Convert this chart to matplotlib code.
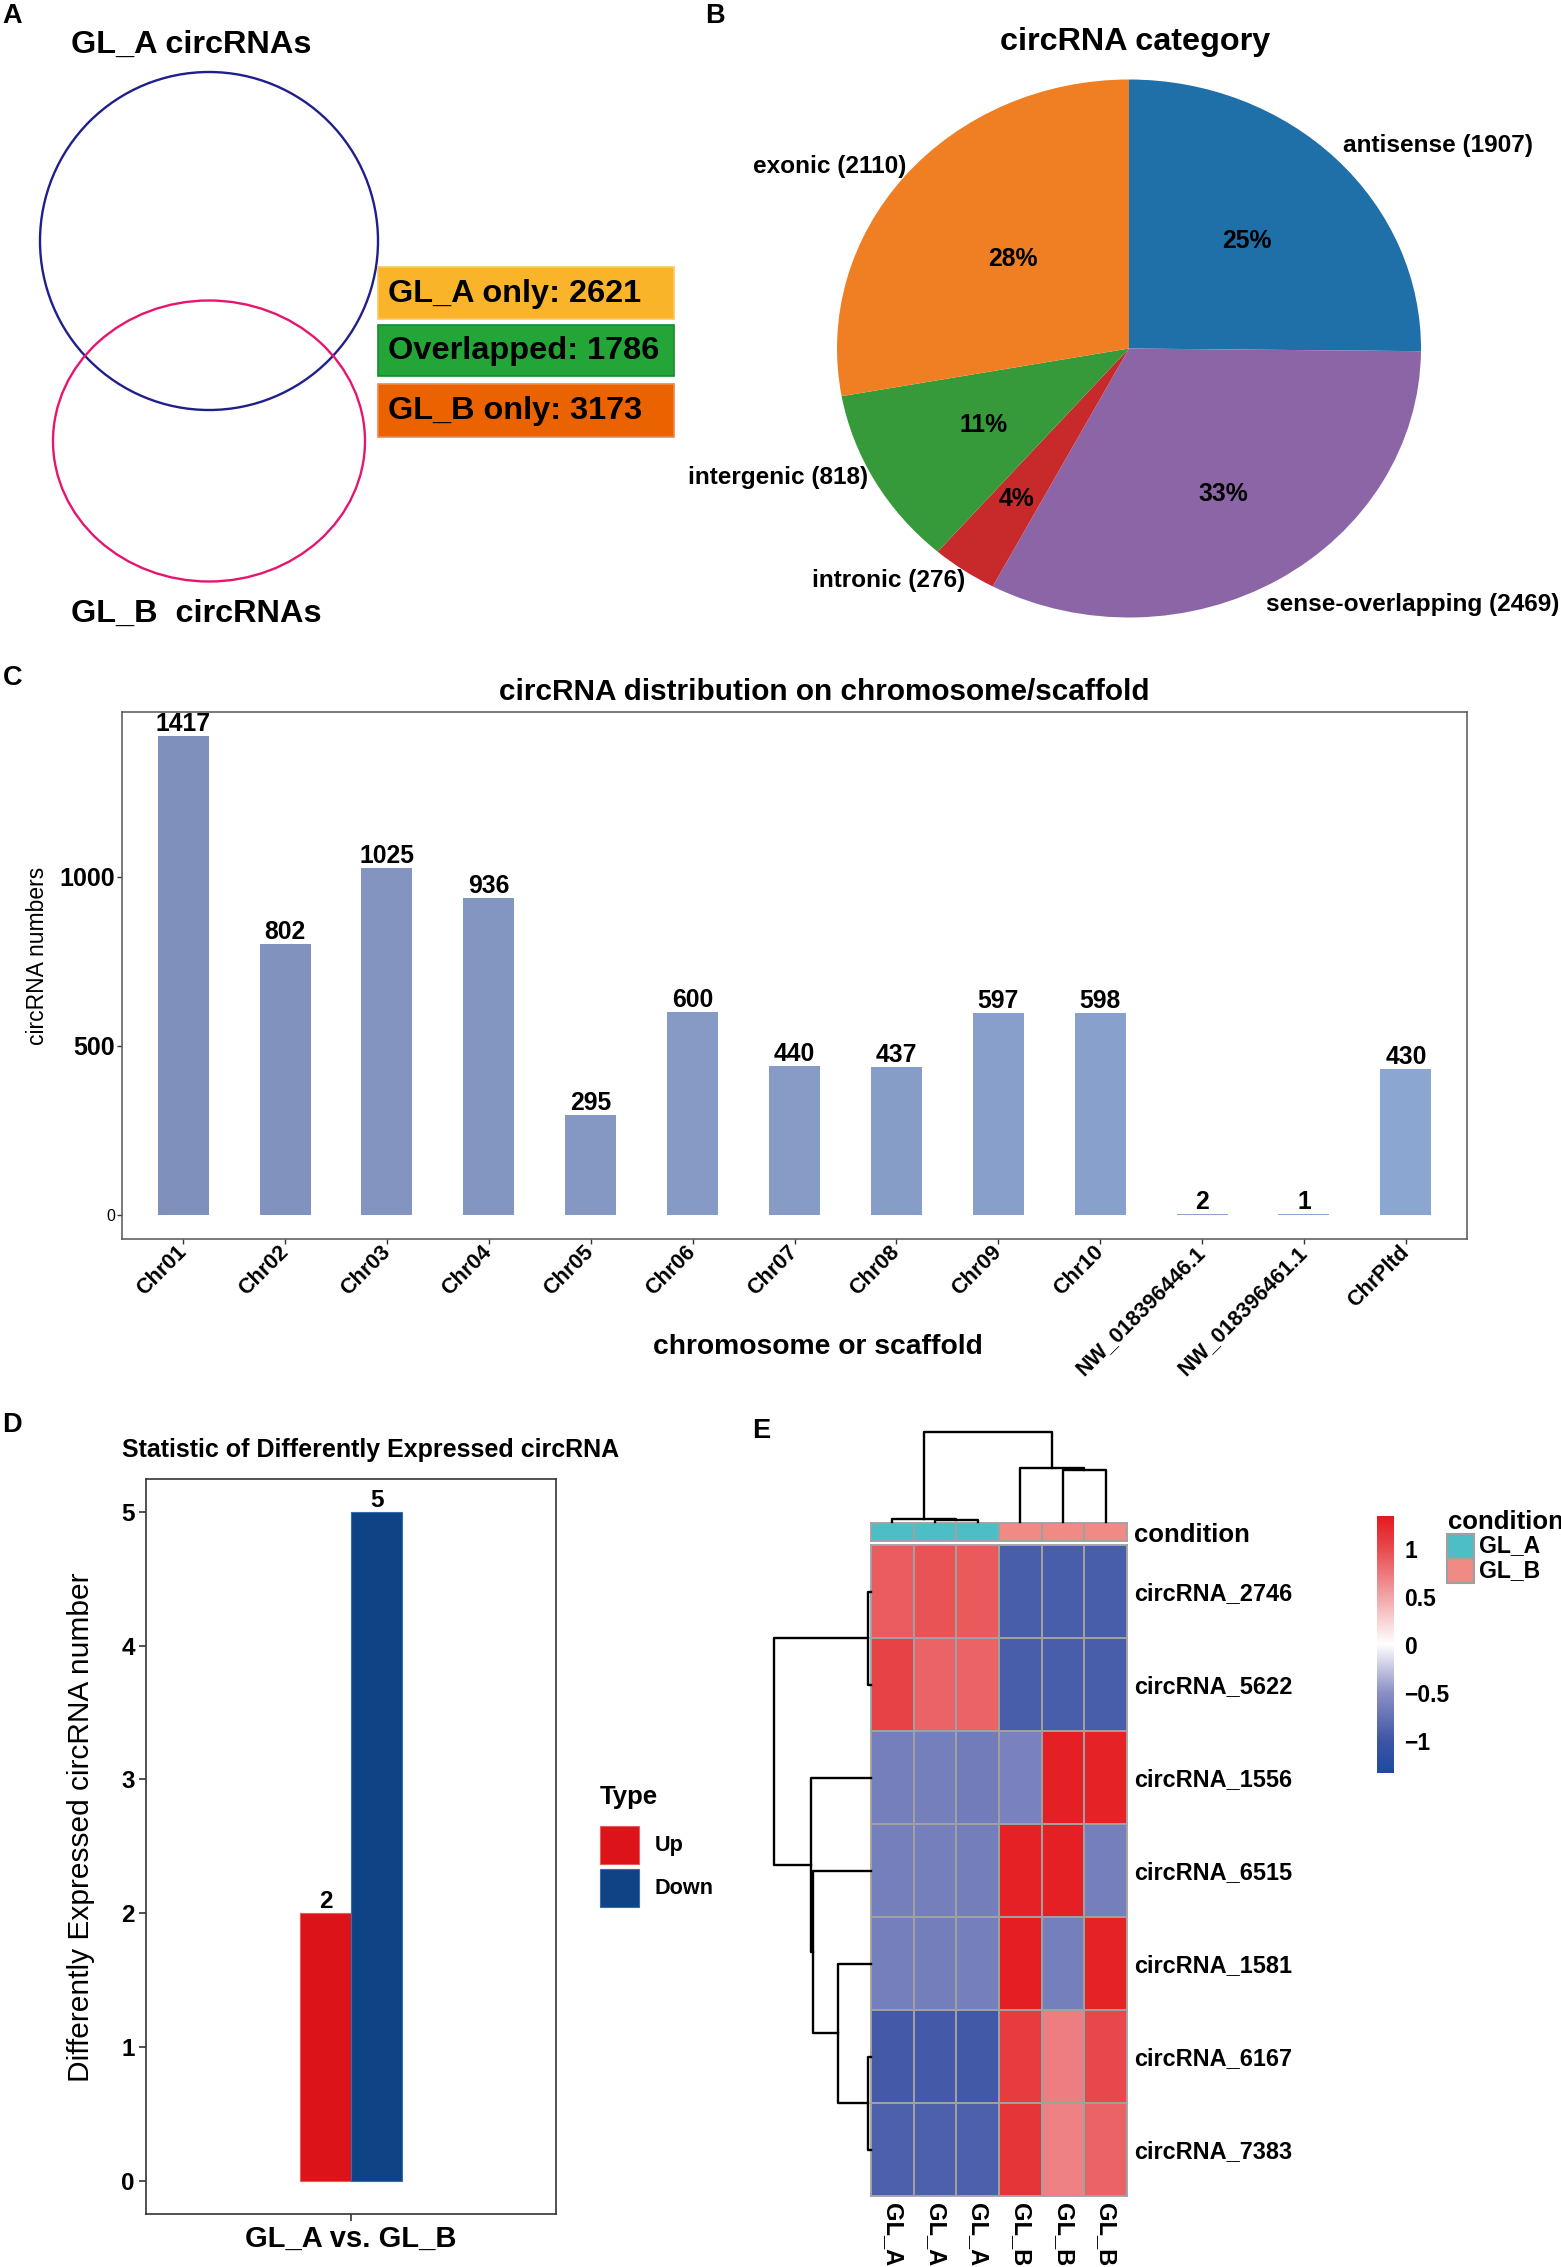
import numpy as np
import matplotlib
matplotlib.use("Agg")
import matplotlib.pyplot as plt
from matplotlib.patches import Ellipse, Rectangle
from matplotlib.colors import LinearSegmentedColormap, ListedColormap, Normalize
from matplotlib.cm import ScalarMappable

plt.rcParams['font.family'] = ['Liberation Sans', 'DejaVu Sans']

W, H = 1561, 2267

#------------------data------------------#
venn_labels = ["GL_A only", "Overlapped", "GL_B only"]
venn_counts = [2621, 1786, 3173]

pie_cats = ["antisense", "sense-overlapping", "intronic", "intergenic", "exonic"]
pie_counts = [1907, 2469, 276, 818, 2110]

chrom_names = ["Chr01", "Chr02", "Chr03", "Chr04", "Chr05", "Chr06", "Chr07",
               "Chr08", "Chr09", "Chr10", "NW_018396446.1", "NW_018396461.1", "ChrPltd"]
chrom_counts = [1417, 802, 1025, 936, 295, 600, 440, 437, 597, 598, 2, 1, 430]

de_types = ["Up", "Down"]
de_counts = [2, 5]
de_group = "GL_A vs. GL_B"

hm_rows = ["circRNA_2746", "circRNA_5622", "circRNA_1556", "circRNA_6515",
           "circRNA_1581", "circRNA_6167", "circRNA_7383"]
hm_cols = ["GL_A2", "GL_A1", "GL_A3", "GL_B1", "GL_B2", "GL_B3"]
hm_condition = ["GL_A", "GL_A", "GL_A", "GL_B", "GL_B", "GL_B"]
hm_values = np.array([
    [0.90, 0.95, 0.91, -0.92, -0.92, -0.92],
    [1.05, 0.85, 0.86, -0.92, -0.92, -0.92],
    [-0.64, -0.64, -0.66, -0.62, 1.29, 1.27],
    [-0.64, -0.64, -0.65, 1.28, 1.29, -0.64],
    [-0.64, -0.65, -0.64, 1.30, -0.64, 1.27],
    [-0.95, -0.95, -0.96, 1.10, 0.72, 1.01],
    [-0.90, -0.90, -0.90, 1.15, 0.70, 0.85],
])
# merges as (left, right, height), new node ids start after the leaves
col_merges = [(1, 2, 1.3), (0, 6, 2.7), (4, 5, 51.7), (3, 8, 53.3), (7, 9, 90.0)]
row_merges = [(0, 1, 2.7), (5, 6, 2.7), (4, 8, 32.7), (3, 9, 58.3), (2, 10, 60.3), (7, 11, 97.0)]


#------------------helpers------------------#
def box(x0, y0, x1, y1):
    # pixel box (top-left origin) -> figure fraction rect
    return [x0 / W, 1 - y1 / H, (x1 - x0) / W, (y1 - y0) / H]


def ftext(x, y, s, **kw):
    kw.setdefault("va", "center")
    return fig.text(x / W, 1 - y / H, s, **kw)


def frect(x0, y0, x1, y1, **kw):
    r = Rectangle((x0 / W, 1 - y1 / H), (x1 - x0) / W, (y1 - y0) / H,
                  transform=fig.transFigure, **kw)
    fig.add_artist(r)


def draw_dendro(ax, merges, n, side):
    pos = {i: i + 0.5 for i in range(n)}
    hgt = {i: 0.0 for i in range(n)}
    node = n
    for a, b, h in merges:
        xs = [pos[a], pos[a], pos[b], pos[b]]
        ys = [hgt[a], h, h, hgt[b]]
        if side == "top":
            ax.plot(xs, ys, color="black", lw=1.7, clip_on=False)
        else:
            ax.plot(ys, xs, color="black", lw=1.7, clip_on=False)
        pos[node] = (pos[a] + pos[b]) / 2
        hgt[node] = h
        node += 1
    ax.axis("off")


fig = plt.figure(figsize=(W / 100, H / 100), dpi=100)

letter_kw = dict(fontsize=19.5, weight="bold", ha="left")
ftext(2, 16, "A", **letter_kw)
ftext(705, 16, "B", **letter_kw)
ftext(3, 678, "C", **letter_kw)
ftext(2, 1425, "D", **letter_kw)
ftext(752, 1431, "E", **letter_kw)

#------------------A: venn------------------#
ax_a = fig.add_axes(box(0, 0, 700, 660))
ax_a.set_xlim(0, 700)
ax_a.set_ylim(660, 0)
ax_a.axis("off")
ax_a.add_patch(Ellipse((209, 241), 338, 338, fill=False, edgecolor="#1f1f8c", lw=1.7))
ax_a.add_patch(Ellipse((209, 441), 312, 281, fill=False, edgecolor="#e5166e", lw=1.7))
ax_a.text(71, 45, "GL_A circRNAs", fontsize=23.4, weight="bold", va="center")
ax_a.text(71, 614, "GL_B  circRNAs", fontsize=23.4, weight="bold", va="center")

venn_rows = [(267, 319), (325, 376), (384, 437)]
venn_fill = ["#f9b42a", "#23a537", "#eb6200"]
venn_edge = ["#fbc95e", "#178a2d", "#f0884a"]
for (y0, y1), lab, cnt, fc, ec in zip(venn_rows, venn_labels, venn_counts, venn_fill, venn_edge):
    ax_a.add_patch(Rectangle((378, y0), 296, y1 - y0, facecolor=fc, edgecolor=ec, lw=1.2))
    ax_a.text(388, (y0 + y1) / 2 + 1, f"{lab}: {cnt}", fontsize=23.4, weight="bold", va="center")

#------------------B: pie------------------#
pie_colors = ["#1f6fa9", "#8c65a7", "#c82a2b", "#379a3a", "#ef7f22"]
pct_radius = [0.57, 0.63, 0.68, 0.575, 0.52]
pie_label_xy = [(0.733, 0.756, "left"), (0.469, -0.953, "left"), (-0.562, -0.861, "right"),
                (-0.894, -0.478, "right"), (-0.764, 0.675, "right")]

ax_b = fig.add_axes(box(837, 79.5, 1421, 617.5))
wedges, _ = ax_b.pie(pie_counts, colors=pie_colors, startangle=90, counterclock=False,
                     radius=1, wedgeprops=dict(linewidth=0))
ax_b.set_aspect("auto")
ax_b.set_xlim(-1, 1)
ax_b.set_ylim(-1, 1)
ax_b.axis("off")
total = sum(pie_counts)
for w, cat, cnt, r, (lx, ly, ha) in zip(wedges, pie_cats, pie_counts, pct_radius, pie_label_xy):
    ang = np.deg2rad((w.theta1 + w.theta2) / 2)
    ax_b.text(r * np.cos(ang), r * np.sin(ang), f"{round(100 * cnt / total)}%",
              ha="center", va="center", fontsize=17.8, weight="bold")
    ax_b.text(lx, ly, f"{cat} ({cnt})", ha=ha, va="center", fontsize=17.6, weight="bold")
ftext(1135, 42, "circRNA category", fontsize=23.3, weight="bold", ha="center")

#------------------C: chromosome bars------------------#
ax_c = fig.add_axes(box(122, 712, 1467, 1238.5))
grad = LinearSegmentedColormap.from_list("c", ["#8090bc", "#8ba7d1"])
n = len(chrom_counts)
bar_cols = [grad(i / (n - 1)) for i in range(n)]
xs = np.arange(n)
bars = ax_c.bar(xs, chrom_counts, width=0.5, color=bar_cols)
ax_c.bar_label(bars, labels=[str(v) for v in chrom_counts], padding=0,
               fontsize=17.8, weight="bold")
ax_c.set_xlim(-0.6, n - 0.4)
ax_c.set_ylim(-0.05 * max(chrom_counts), 1.05 * max(chrom_counts))
ax_c.tick_params(axis="both", length=3.6, width=1.0, color="#333333", pad=1.5)
ax_c.tick_params(axis="x", pad=4)
ax_c.set_yticks([0, 500, 1000])
ax_c.set_yticklabels(["0", "500", "1000"], fontsize=18, weight="bold")
ytl = ax_c.get_yticklabels()
ytl[0].set_fontsize(11.5)
ytl[0].set_fontweight("normal")
ax_c.set_xticks(xs)
ax_c.set_xticklabels(chrom_names, fontsize=15.5, weight="bold")
plt.setp(ax_c.get_xticklabels(), rotation=45, ha="right", va="center", rotation_mode="anchor")
for sp in ax_c.spines.values():
    sp.set_color("#555555")
    sp.set_linewidth(1.1)
ftext(824, 692, "circRNA distribution on chromosome/scaffold", fontsize=21.4,
      weight="bold", ha="center")
ftext(818, 1347, "chromosome or scaffold", fontsize=20.3, weight="bold", ha="center")
ftext(37.5, 956, "circRNA numbers", fontsize=16.5, rotation=90, ha="center")

#------------------D: DE bars------------------#
ax_d = fig.add_axes(box(146, 1478.5, 556, 2214))
de_colors = ["#dc1419", "#0e4486"]
de_edges = ["#e85a5e", "#3a6ab0"]
bw = 0.15
offs = 1 + (np.arange(len(de_types)) - (len(de_types) - 1) / 2) * bw
bars_d = ax_d.bar(offs, de_counts, width=bw, color=de_colors, edgecolor=de_edges, linewidth=0.8)
ax_d.bar_label(bars_d, padding=0, fontsize=17.5, weight="bold")
ax_d.set_xlim(0.4, 1.6)
ax_d.set_ylim(-0.05 * max(de_counts), 1.05 * max(de_counts))
ax_d.tick_params(axis="both", length=5, width=1.2, color="#333333", pad=3)
ax_d.set_yticks(range(0, max(de_counts) + 1))
ax_d.set_yticklabels([str(v) for v in range(0, max(de_counts) + 1)], fontsize=17.5, weight="bold")
ax_d.set_xticks([1])
ax_d.set_xticklabels([de_group], fontsize=21, weight="bold")
for sp in ax_d.spines.values():
    sp.set_color("#333333")
    sp.set_linewidth(1.2)
ftext(371, 1450, "Statistic of Differently Expressed circRNA", fontsize=18,
      weight="bold", ha="center")
ftext(81, 1827, "Differently Expressed circRNA number", fontsize=21.5, rotation=90, ha="center")

# legend
ftext(600, 1797, "Type", fontsize=18.5, weight="bold", ha="left")
key_rows = [(1826, 1864), (1869, 1907)]
for (y0, y1), lab, fc, ec in zip(key_rows, de_types, de_colors, de_edges):
    frect(600, y0, 639, y1, facecolor=fc, edgecolor=ec, lw=0.8)
    ftext(655, (y0 + y1) / 2, lab, fontsize=15.6, weight="bold", ha="left")

#------------------E: heatmap------------------#
hm_cmap = LinearSegmentedColormap.from_list("hm", [
    (0.0, "#1f4a9e"), (0.125, "#3d55a5"), (0.31, "#8b8fc5"), (0.5, "#ffffff"),
    (0.69, "#f0a3a6"), (0.875, "#e8494c"), (1.0, "#e41a1f")])
hm_norm = Normalize(vmin=-1.33, vmax=1.34)
grid_col = "#a0a0a0"

ax_e = fig.add_axes(box(871, 1545, 1127, 2196))
ax_e.pcolormesh(hm_values, cmap=hm_cmap, norm=hm_norm, edgecolors=grid_col, linewidth=1.3)
ax_e.set_xlim(0, len(hm_cols))
ax_e.set_ylim(len(hm_rows), 0)
ax_e.tick_params(length=0, pad=5)
ax_e.yaxis.tick_right()
ax_e.set_yticks(np.arange(len(hm_rows)) + 0.5)
ax_e.set_yticklabels(hm_rows, fontsize=16.9, weight="bold")
ax_e.set_xticks(np.arange(len(hm_cols)) + 0.5)
ax_e.set_xticklabels(hm_cols, fontsize=17, weight="bold", rotation=270, va="top")
for sp in ax_e.spines.values():
    sp.set_color(grid_col)
    sp.set_linewidth(1.3)

cond_levels = ["GL_A", "GL_B"]
cond_colors = ["#4dbec6", "#ef8a85"]
ax_cond = fig.add_axes(box(871, 1523, 1127, 1541))
codes = np.array([[cond_levels.index(c) for c in hm_condition]])
ax_cond.pcolormesh(codes, cmap=ListedColormap(cond_colors), vmin=0, vmax=1,
                   edgecolors=grid_col, linewidth=1.3)
ax_cond.set_xlim(0, len(hm_cols))
ax_cond.set_ylim(1, 0)
ax_cond.tick_params(length=0, pad=5)
ax_cond.set_xticks([])
ax_cond.yaxis.tick_right()
ax_cond.set_yticks([0.5])
ax_cond.set_yticklabels(["condition"], fontsize=18.5, weight="bold")
for sp in ax_cond.spines.values():
    sp.set_color(grid_col)
    sp.set_linewidth(1.3)

ax_cd = fig.add_axes(box(871, 1431.5, 1127, 1521.7))
ax_cd.set_xlim(0, len(hm_cols))
ax_cd.set_ylim(0, col_merges[-1][2])
draw_dendro(ax_cd, col_merges, len(hm_cols), "top")

ax_rd = fig.add_axes(box(774, 1545, 871, 2196))
ax_rd.set_xlim(row_merges[-1][2], 0)
ax_rd.set_ylim(len(hm_rows), 0)
draw_dendro(ax_rd, row_merges, len(hm_rows), "left")

cax = fig.add_axes(box(1376.7, 1516, 1394.3, 1772.7))
cb = fig.colorbar(ScalarMappable(norm=hm_norm, cmap=hm_cmap), cax=cax)
cb.outline.set_visible(False)
cax.tick_params(length=0, pad=7)
cb.set_ticks([-1, -0.5, 0, 0.5, 1])
cb.set_ticklabels(["\u22121", "\u22120.5", "0", "0.5", "1"], fontsize=16.5, weight="bold")

ftext(1448, 1521.7, "condition", fontsize=18.5, weight="bold", ha="left")
leg_rows = [(1534, 1558), (1558, 1583)]
for (y0, y1), lab, fc in zip(leg_rows, cond_levels, cond_colors):
    frect(1447, y0, 1474, y1, facecolor=fc, edgecolor=grid_col, lw=1.5)
    ftext(1479, (y0 + y1) / 2, lab, fontsize=16.6, weight="bold", ha="left")

fig.savefig("out.png", dpi=100)
